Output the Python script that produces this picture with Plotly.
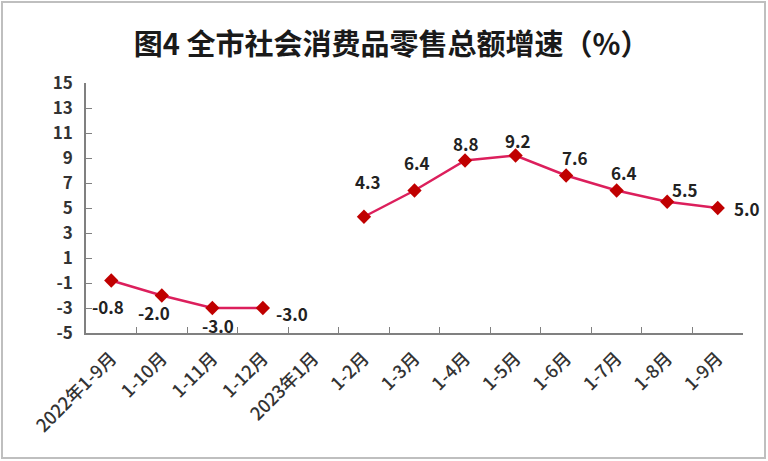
import plotly.graph_objects as go

categories = ["2022年1-9月", "1-10月", "1-11月", "1-12月", "2023年1月", "1-2月", "1-3月",
              "1-4月", "1-5月", "1-6月", "1-7月", "1-8月", "1-9月"]
growth = [-0.8, -2.0, -3.0, -3.0, None, 4.3, 6.4, 8.8, 9.2, 7.6, 6.4, 5.5, 5.0]
y_ticks = [-5, -3, -1, 1, 3, 5, 7, 9, 11, 13, 15]
y_tick_text = ["-5", "-3", "-1", "1", "3", "5", "7", "9", "11", "13", "15"]

# label offsets in pixels (dx right, dy up)
label_dx = [-3, -8, 6, 29, 0, 4, 2, 1, 2, 9, 7, 18, 29]
label_dy = [-26, -17, -17, -5, 0, 35, 28, 17, 15, 18, 18, 12, 0]

W, H = 768, 461
L, R, T, B = 86, 25, 83, 128

fig = go.Figure()
fig.add_trace(go.Scatter(
    x=categories, y=growth, mode="lines+markers",
    line=dict(color="#DC1F5C", width=2.5),
    marker=dict(symbol="diamond", size=11, color="#C00000"),
    connectgaps=False, hoverinfo="skip", showlegend=False,
))

for c, v, dx, dy in zip(categories, growth, label_dx, label_dy):
    if v is None:
        continue
    fig.add_annotation(x=c, y=v, text=f"{v:.1f}", showarrow=False,
                       xshift=dx, yshift=dy,
                       font=dict(family="Noto Sans CJK SC", size=17, color="#222222", weight="bold"))

pw, ph = W - L - R, H - T - B
fig.add_shape(type="rect", xref="paper", yref="paper",
              x0=(2 - L) / pw, x1=(W - 3 - L) / pw,
              y0=-(H - 3 - T - ph) / ph, y1=1 + (T - 2) / ph,
              line=dict(color="#BFBFBF", width=2), layer="below")

fig.update_layout(
    width=W, height=H,
    margin=dict(l=L, r=R, t=T, b=B),
    paper_bgcolor="white", plot_bgcolor="white",
    title=dict(text="图4 全市社会消费品零售总额增速（%）", x=0.51, xanchor="center",
               y=1 - 45 / H, yanchor="middle",
               font=dict(family="Noto Sans CJK SC", size=29, color="#1a1a1a", weight="bold")),
    xaxis=dict(type="category", showgrid=False, showline=True, linecolor="#808080", linewidth=1.5,
               ticks="inside", ticklen=6, tickcolor="#808080", tickson="boundaries",
               tickangle=-45, ticklabelstandoff=6,
               tickfont=dict(family="Noto Sans CJK SC", size=18, color="#333333", weight=500),
               range=[-0.5, len(categories) - 0.5], zeroline=False),
    yaxis=dict(range=[-5, 15], tickvals=y_ticks, ticktext=y_tick_text, showgrid=False, showline=True,
               linecolor="#808080", linewidth=1.5, ticks="inside", ticklen=6, tickcolor="#808080",
               ticklabelstandoff=8,
               tickfont=dict(family="Noto Sans CJK SC", size=17, color="#333333", weight="bold"),
               zeroline=False),
)

fig.write_html("out.html", config={"displayModeBar": False},
               post_script="document.body.style.margin='0';document.body.style.padding='0';")
